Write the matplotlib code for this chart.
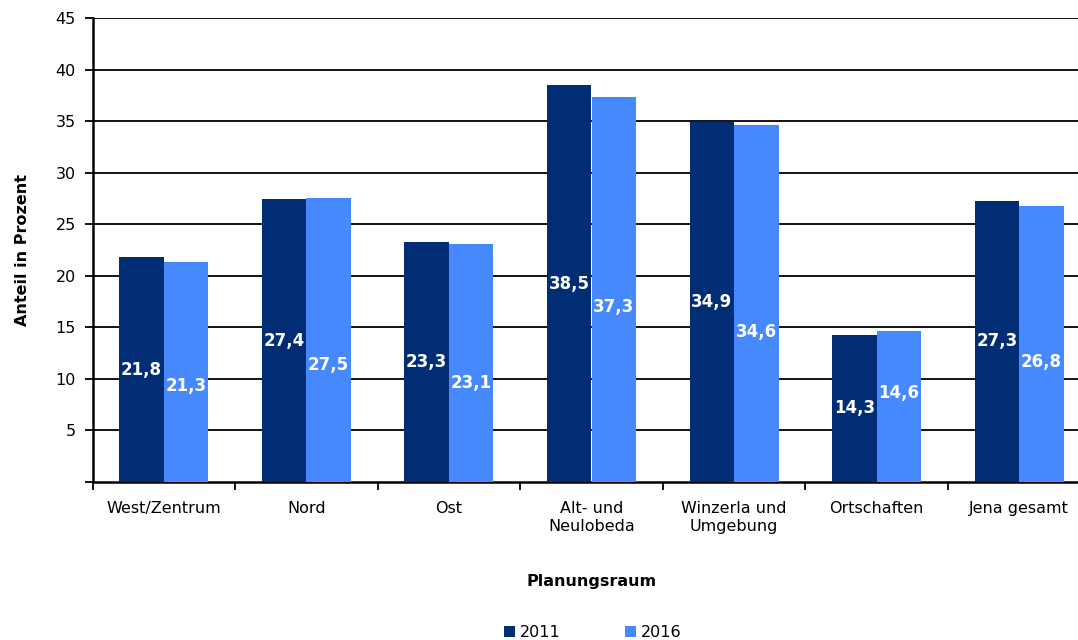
import matplotlib.pyplot as plt
import numpy as np

categories = ['West/Zentrum', 'Nord', 'Ost', 'Alt- und\nNeulobeda', 'Winzerla und\nUmgebung', 'Ortschaften', 'Jena gesamt']
v2011 = [21.8, 27.4, 23.3, 38.5, 34.9, 14.3, 27.3]
v2016 = [21.3, 27.5, 23.1, 37.3, 34.6, 14.6, 26.8]
# Excel pushes some 2016 labels off-centre to avoid overlap
lab2016_y = [9.3, 11.3, 9.6, 17.0, 14.5, 8.6, 11.6]

c11 = '#002D74'
c16 = '#4689FF'

plt.rcParams['font.family'] = ['DejaVu Sans']
fig = plt.figure(figsize=(10.78, 6.4), dpi=100)
# axes run a little past the right edge, like the original export
ax = fig.add_axes([92.5/1078, 1-482/640, 998/1078, 464/640])

x = np.arange(len(categories))
w = 0.312
ax.bar(x - w/2, v2011, w, color=c11, label='2011', zorder=3)
ax.bar(x + w/2, v2016, w, color=c16, label='2016', zorder=3)

for i in range(len(x)):
    ax.text(x[i] - w/2, v2011[i]/2, f'{v2011[i]:.1f}'.replace('.', ','), ha='center', va='center',
            color='white', fontsize=12, fontweight='bold', zorder=4)
    ax.text(x[i] + w/2, lab2016_y[i], f'{v2016[i]:.1f}'.replace('.', ','), ha='center', va='center',
            color='white', fontsize=12, fontweight='bold', zorder=4)

ax.set_xlim(-0.5, len(categories) - 0.5)
ax.set_ylim(0, 45)
ax.set_yticks(np.arange(5, 50, 5))
ax.set_yticks([0], minor=True)
ax.yaxis.grid(True, color='black', linewidth=1.3, zorder=0)
ax.tick_params(axis='y', which='both', length=6, width=1.3, labelsize=11.5, pad=6)
ax.set_xticks(x)
ax.set_xticklabels(categories, fontsize=11.5)
ax.set_xticks(np.arange(-0.5, len(categories), 1), minor=True)
ax.tick_params(axis='x', which='major', length=0, pad=14)
ax.tick_params(axis='x', which='minor', length=6, width=1.3)
for s in ['top', 'right']:
    ax.spines[s].set_visible(False)
for s in ['left', 'bottom']:
    ax.spines[s].set_linewidth(1.8)

ax.set_ylabel('Anteil in Prozent', fontsize=11.5, fontweight='bold', labelpad=18)
ax.set_xlabel('Planungsraum', fontsize=11.5, fontweight='bold', labelpad=29)

fig.legend(loc='lower center', bbox_to_anchor=(0.55, -0.022), ncol=2, frameon=False,
           fontsize=11.5, handlelength=0.7, handleheight=0.7, handletextpad=0.3, columnspacing=4.0)

fig.savefig('out.png', dpi=100)
